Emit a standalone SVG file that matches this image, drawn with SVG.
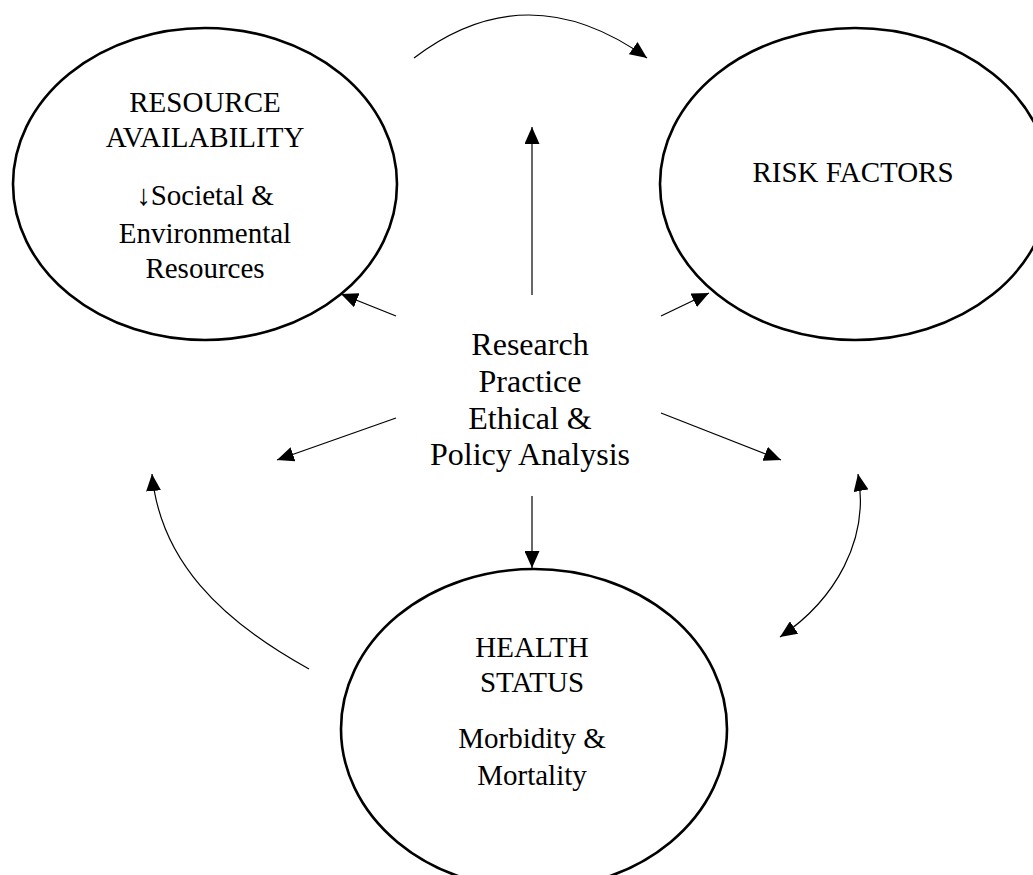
<svg xmlns="http://www.w3.org/2000/svg" width="1033" height="875" viewBox="0 0 1033 875">
<style>
.node{fill:#fff;stroke:#000;stroke-width:2.6}
.t{font-family:"Liberation Serif","Times New Roman",serif;font-size:29px;fill:#000;text-anchor:middle}
.c{font-family:"Liberation Serif","Times New Roman",serif;font-size:32px;fill:#000;text-anchor:middle}
.edge{fill:none;stroke:#000;stroke-width:1.2}
</style>
<defs>
<marker id="ah" markerUnits="userSpaceOnUse" markerWidth="18" markerHeight="15" refX="17" refY="7.5" orient="auto-start-reverse">
<path d="M0,0 L17,7.5 L0,15 z" fill="#000"/>
</marker>
</defs>
<rect width="1033" height="875" fill="#fff"/>
<g id="resource">
<ellipse class="node" cx="205" cy="184" rx="192" ry="156"/>
<text class="t" x="205" y="112">RESOURCE</text>
<text class="t" x="205" y="147">AVAILABILITY</text>
<text class="t" x="205" y="205">↓Societal &amp;</text>
<text class="t" x="205" y="243">Environmental</text>
<text class="t" x="205" y="278">Resources</text>
</g>
<g id="risk">
<ellipse class="node" cx="855" cy="184" rx="195" ry="156"/>
<text class="t" x="853" y="182">RISK FACTORS</text>
</g>
<g id="health">
<ellipse class="node" cx="534" cy="729" rx="193" ry="160"/>
<text class="t" x="532" y="657">HEALTH</text>
<text class="t" x="532" y="692">STATUS</text>
<text class="t" x="532" y="748">Morbidity &amp;</text>
<text class="t" x="532" y="785">Mortality</text>
</g>
<g id="center">
<text class="c" x="530" y="355">Research</text>
<text class="c" x="530" y="392">Practice</text>
<text class="c" x="530" y="429">Ethical &amp;</text>
<text class="c" x="530" y="465">Policy Analysis</text>
</g>
<g id="connectors">
<path class="edge" d="M414,58 Q527,-28 647,58" marker-end="url(#ah)"/>
<line class="edge" x1="532" y1="295" x2="532" y2="127" marker-end="url(#ah)"/>
<line class="edge" x1="532" y1="496" x2="532" y2="568" marker-end="url(#ah)"/>
<line class="edge" x1="396" y1="316" x2="341" y2="294" marker-end="url(#ah)"/>
<line class="edge" x1="661" y1="316" x2="709" y2="293" marker-end="url(#ah)"/>
<line class="edge" x1="396" y1="418" x2="277" y2="460" marker-end="url(#ah)"/>
<line class="edge" x1="661" y1="413" x2="781" y2="460" marker-end="url(#ah)"/>
<path class="edge" d="M309,669 C220,620 160,560 152,474" marker-end="url(#ah)"/>
<path class="edge" d="M858,474 C870,540 835,600 780,637" marker-start="url(#ah)" marker-end="url(#ah)"/>
</g>
</svg>
